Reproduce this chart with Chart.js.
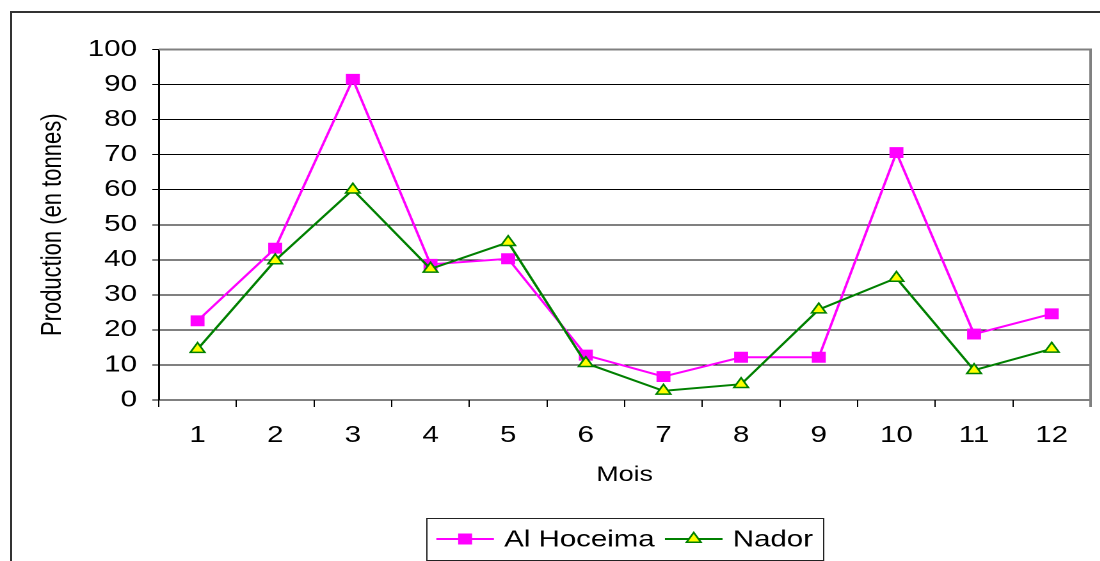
<!DOCTYPE html>
<html>
<head>
<meta charset="utf-8">
<script src="https://cdn.jsdelivr.net/npm/chart.js@4"></script>
<style>
  html, body { margin: 0; padding: 0; background: #fff; width: 1100px; height: 561px; overflow: hidden; position: relative; }
  #frame { position: absolute; left: 10px; top: 11px; width: 1200px; height: 700px; border: 2px solid #333; box-sizing: border-box; }
  /* the original chart is stretched horizontally, so draw narrower and stretch */
  #wrap { position: absolute; left: 0; top: 0; width: 860px; height: 561px; transform: scaleX(1.28); transform-origin: 0 0; }
</style>
</head>
<body>
<div id="frame"></div>
<div id="wrap"><canvas id="prod_chart"></canvas></div>
<script>
// Chart data
const months = ["1", "2", "3", "4", "5", "6", "7", "8", "9", "10", "11", "12"];
const alHoceima = [22.6, 43.3, 91.5, 38.7, 40.3, 12.8, 6.7, 12.2, 12.2, 70.6, 18.8, 24.6];
const nador = [14.5, 39.8, 60.0, 37.4, 45.0, 10.5, 2.6, 4.5, 25.8, 34.8, 8.5, 14.6];
const yTicks = [0, 10, 20, 30, 40, 50, 60, 70, 80, 90, 100];

const FONT = '"Liberation Sans", Arial, sans-serif';

// Gray border on top and right of the plot area (left/bottom are the axes)
const plotFrame = {
  id: "plotFrame",
  beforeDatasetsDraw(chart) {
    const { ctx, chartArea: a } = chart;
    ctx.save();
    ctx.strokeStyle = "#808080";
    ctx.lineWidth = 2;
    ctx.beginPath();
    ctx.moveTo(a.left, a.top);
    ctx.lineTo(a.right, a.top);
    ctx.lineTo(a.right, a.bottom + 7);
    ctx.stroke();
    ctx.restore();
  },
};

// Boxed legend with line + marker symbols, like Excel
const legendBox = {
  id: "legendBox",
  afterDraw(chart) {
    const { ctx, chartArea: a } = chart;
    const datasets = chart.data.datasets;
    ctx.save();
    ctx.font = "23px " + FONT;
    const pad = 8, lineLen = 45, gap = 8, itemGap = 8;
    const widths = datasets.map((ds) => ctx.measureText(ds.label).width);
    let total = pad * 2 + itemGap * (datasets.length - 1);
    widths.forEach((w) => (total += lineLen + gap + w));
    const top = 518, h = 42, cy = top + h / 2;
    let x = (a.left + a.right) / 2 - total / 2;

    ctx.strokeStyle = "#222";
    ctx.lineWidth = 1;
    ctx.strokeRect(Math.round(x) + 0.5, top + 0.5, Math.round(total), h);

    x += pad;
    datasets.forEach((ds, i) => {
      ctx.strokeStyle = ds.borderColor;
      ctx.lineWidth = ds.borderWidth;
      ctx.beginPath();
      ctx.moveTo(x, cy);
      ctx.lineTo(x + lineLen, cy);
      ctx.stroke();
      ctx.fillStyle = ds.pointBackgroundColor;
      ctx.lineWidth = ds.pointBorderWidth;
      Chart.helpers.drawPoint(ctx, {
        pointStyle: ds.pointStyle,
        radius: ds.pointRadius,
        rotation: 0,
        borderWidth: ds.pointBorderWidth,
      }, x + lineLen / 2, cy);
      x += lineLen + gap;
      ctx.fillStyle = "#000";
      ctx.textBaseline = "middle";
      ctx.textAlign = "left";
      ctx.fillText(ds.label, x, cy + 1);
      x += widths[i] + itemGap;
    });
    ctx.restore();
  },
};

const data = {
  labels: months,
  datasets: [
    {
      label: "Al Hoceima",
      data: alHoceima,
      borderColor: "#FF00FF",
      backgroundColor: "#FF00FF",
      borderWidth: 2,
      tension: 0,
      pointStyle: "rect",
      pointRadius: 7,
      pointBackgroundColor: "#FF00FF",
      pointBorderColor: "#FF00FF",
      pointBorderWidth: 1,
      order: 1,
    },
    {
      label: "Nador",
      data: nador,
      borderColor: "#008000",
      backgroundColor: "#FFFF00",
      borderWidth: 2,
      tension: 0,
      pointStyle: "triangle",
      pointRadius: 6.5,
      pointBackgroundColor: "#FFFF00",
      pointBorderColor: "#008000",
      pointBorderWidth: 1.5,
      order: 0,
    },
  ],
};

const config = {
  type: "line",
  data: data,
  options: {
    responsive: true,
    maintainAspectRatio: false,
    animation: false,
    devicePixelRatio: 2,
    layout: { padding: { left: 0, right: 6.3, top: 49.5, bottom: 54 } },
    plugins: {
      legend: { display: false },
      tooltip: { enabled: false },
    },
    scales: {
      x: {
        offset: true,
        ticks: { color: "#000", font: { size: 23, family: FONT }, padding: 15, maxRotation: 0, autoSkip: false },
        grid: { offset: true, drawOnChartArea: false, drawTicks: true, tickLength: 7, color: "#000" },
        border: { color: "#000", width: 1 },
        title: { display: true, text: "Mois", color: "#000", font: { size: 21, family: FONT }, padding: { top: 0, bottom: 19 } },
        afterFit(scale) { scale.height = 107; },
      },
      y: {
        min: 0,
        max: 100,
        afterBuildTicks(scale) { scale.ticks = yTicks.map((v) => ({ value: v })); },
        ticks: { color: "#000", font: { size: 23, family: FONT }, padding: 12 },
        grid: { color: "#000", lineWidth: 1, drawTicks: true, tickLength: 5 },
        border: { color: "#000", width: 1.5 },
        title: { display: true, text: "Production (en tonnes)", color: "#000", font: { size: 22, family: FONT }, padding: { top: 28, bottom: 0 } },
        afterFit(scale) { scale.width = 124; },
      },
    },
  },
  plugins: [plotFrame, legendBox],
};

const ctx = document.getElementById("prod_chart").getContext("2d");
new Chart(ctx, config);
</script>
</body>
</html>
